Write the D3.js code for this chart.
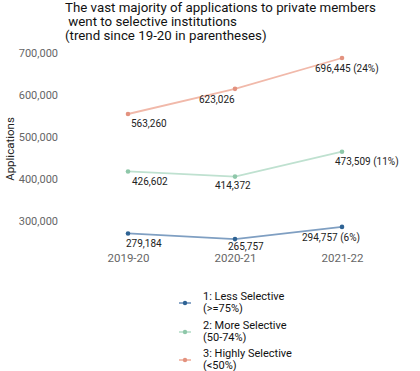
<!DOCTYPE html>
<html><head><meta charset="utf-8">
<script src="https://cdn.jsdelivr.net/npm/d3@7"></script>
<style>body{margin:0;background:#fff;}text{font-family:Roboto,"Noto Sans",sans-serif;}</style>
</head><body><svg id="c" width="420" height="371"></svg>
<script>
const years = ["2019-20","2020-21","2021-22"];
const seriesNames = ["1: Less Selective","2: More Selective","3: Highly Selective"];
const seriesSub = ["(>=75%)","(50-74%)","(<50%)"];
const lessSelective = [279184, 265757, 294757];
const moreSelective = [426602, 414372, 473509];
const highlySelective = [563260, 623026, 696445];
const trendLabels = [["279,184","265,757","294,757 (6%)"],["426,602","414,372","473,509 (11%)"],["563,260","623,026","696,445 (24%)"]];
const yTicks = [300000, 400000, 500000, 600000, 700000];

const pointColors = ["#2f6394","#8ec7a9","#e3927f"];
const lineColors = ["#7f9fc2","#bfe1d0","#f1b9aa"];
// label offsets (layout)
const labelOff = [[[-2,11],[-7,8],[-40,11]],[[4,11],[-20,10],[-7,11]],[[3,10],[-36,11],[-27,11]]];

const series = [lessSelective, moreSelective, highlySelective];
const svg = d3.select("#c");
const x = d3.scalePoint().domain(years).range([128,342]);
const y = d3.scaleLinear().domain([563260, 696445]).range([114,58]);

// title
[["The vast majority of applications to private members",65,12],[" went to selective institutions",65,26],["(trend since 19-20 in parentheses)",65,40]].forEach(([t,xx,yy])=>{
  svg.append("text").attr("x",xx).attr("y",yy).attr("font-size",13.3).attr("fill","#111").attr("xml:space","preserve").style("white-space","pre").text(t);
});

// y axis
const yAxis = d3.axisLeft(y).tickValues(yTicks).tickFormat(d3.format(",")).tickSize(0).tickPadding(0);
const ya = svg.append("g").attr("transform","translate(58,0)").call(yAxis);
ya.select(".domain").remove();
ya.selectAll("text").attr("font-size",11).attr("fill","#666").attr("dy","0").attr("dominant-baseline","middle").attr("transform","translate(0,-3)");

svg.append("text").attr("transform","translate(14,149) rotate(-90)").attr("text-anchor","middle").attr("font-size",11.5).attr("fill","#222").text("Applications");

// x axis
const xAxis = d3.axisBottom(x).tickSize(0).tickPadding(0);
const xa = svg.append("g").attr("transform","translate(0,254)").call(xAxis);
xa.select(".domain").remove();
xa.selectAll("text").attr("font-size",11.5).attr("fill","#666").attr("dy","0.71em");

const line = d3.line().x((d,i)=>x(years[i])).y(d=>y(d));
series.forEach((s,k)=>{
  svg.append("path").attr("d",line(s)).attr("fill","none").attr("stroke",lineColors[k]).attr("stroke-width",1.8);
  s.forEach((v,i)=>{
    svg.append("circle").attr("cx",x(years[i])).attr("cy",y(v)).attr("r",2.3).attr("fill",pointColors[k]);
    svg.append("text").attr("x",x(years[i])+labelOff[k][i][0]).attr("y",y(v)+labelOff[k][i][1]).attr("dominant-baseline","middle").attr("font-size",10).attr("fill","#222").text(trendLabels[k][i]);
  });
});

// legend
const legY = [303,332,360];
seriesNames.forEach((n,k)=>{
  const g = svg.append("g");
  g.append("line").attr("x1",179).attr("x2",191).attr("y1",legY[k]).attr("y2",legY[k]).attr("stroke",lineColors[k]).attr("stroke-width",1.8);
  g.append("circle").attr("cx",185).attr("cy",legY[k]).attr("r",2.2).attr("fill",pointColors[k]);
  g.append("text").attr("x",203).attr("y",legY[k]-6).attr("dominant-baseline","middle").attr("font-size",11).attr("fill","#111").text(n);
  g.append("text").attr("x",203).attr("y",legY[k]+6).attr("dominant-baseline","middle").attr("font-size",11).attr("fill","#111").text(seriesSub[k]);
});
</script></body></html>
